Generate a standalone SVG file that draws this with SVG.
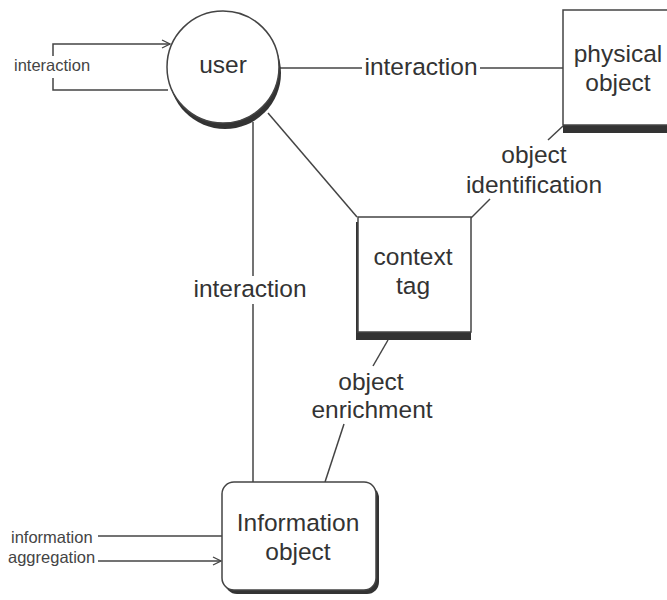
<svg xmlns="http://www.w3.org/2000/svg" width="667" height="600" viewBox="0 0 667 600">
<style>
.big{font-family:"Liberation Sans",Arial,sans-serif;font-size:24.5px;fill:#333;text-anchor:middle}
.small{font-family:"Liberation Sans",Arial,sans-serif;font-size:16.5px;fill:#444}
.ln{stroke:#444;stroke-width:1.5;fill:none}
.node{fill:#fff;stroke:#444;stroke-width:1.5}
.shadow{fill:#333}
</style>
<defs>
<marker id="arr" markerWidth="10" markerHeight="10" refX="9" refY="5" orient="auto" markerUnits="userSpaceOnUse">
<path d="M1,1 L9,5 L1,9" fill="none" stroke="#444" stroke-width="1.3"/>
</marker>
</defs>
<g id="connectors">
<path class="ln" d="M53,56 V44 H170" marker-end="url(#arr)"/>
<path class="ln" d="M53,78 V90 H168"/>
<path class="ln" d="M279,68 H362"/>
<path class="ln" d="M480,68 H563"/>
<path class="ln" d="M268,113 L357,217"/>
<path class="ln" d="M253,122 V482"/>
<path class="ln" d="M563,126 L548,140"/>
<path class="ln" d="M490,199 L471,218"/>
<path class="ln" d="M388,340 L373,366"/>
<path class="ln" d="M344,424 L325,482"/>
<path class="ln" d="M98,536 H222"/>
<path class="ln" d="M98,561 H221" marker-end="url(#arr)"/>
</g>
<g id="label-interaction-left"><text class="small" x="14" y="71">interaction</text></g>
<g id="label-interaction-top"><text class="big" x="421" y="75">interaction</text></g>
<g id="label-interaction-mid"><rect x="190" y="276" width="120" height="28" fill="#fff"/><text class="big" x="250" y="297">interaction</text></g>
<g id="label-identification"><text class="big" x="534" y="163">object</text><text class="big" x="534" y="193">identification</text></g>
<g id="label-enrichment"><text class="big" x="371" y="390">object</text><text class="big" x="372" y="418">enrichment</text></g>
<g id="label-aggregation"><text class="small" x="11" y="543">information</text><text class="small" x="8" y="563">aggregation</text></g>
<g id="user">
<circle class="shadow" cx="225" cy="73" r="56"/>
<circle class="node" cx="223" cy="67" r="56"/>
<text class="big" x="223" y="73">user</text>
</g>
<g id="physical-object">
<rect class="shadow" x="563" y="118" width="110" height="15"/>
<rect class="node" x="563" y="10" width="110" height="115"/>
<text class="big" x="618" y="62">physical</text>
<text class="big" x="618" y="91">object</text>
</g>
<g id="context-tag">
<rect class="shadow" x="356" y="222" width="115" height="118"/>
<rect class="node" x="358" y="217" width="113" height="115"/>
<text class="big" x="413" y="265">context</text>
<text class="big" x="413" y="294">tag</text>
</g>
<g id="information-object">
<rect class="shadow" x="225" y="486" width="154" height="108" rx="12"/>
<rect class="node" x="222" y="482" width="154" height="108" rx="12"/>
<text class="big" x="298" y="531">Information</text>
<text class="big" x="298" y="560">object</text>
</g>
</svg>
